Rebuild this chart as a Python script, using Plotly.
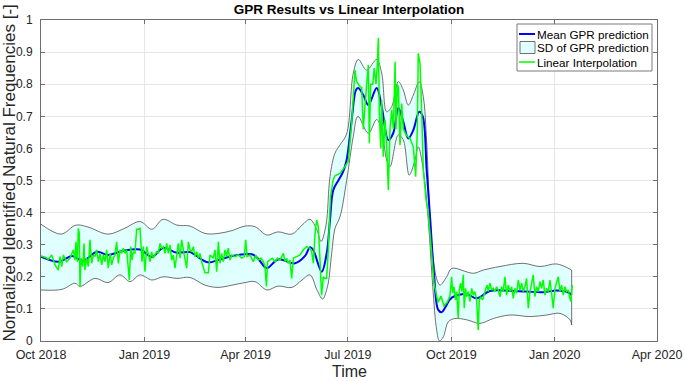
import pandas as pd
import plotly.graph_objects as go

START = "2018-10-01"

# Mean GPR prediction (days since START, value)
MEAN_DAYS = [0, 16.0, 27.6, 37.4, 49.8, 59.6, 72.1, 88.1, 98.7, 108.5, 121.0, 132.5, 137.0, 148.6,
             157.5, 169.9, 187.7, 193.0, 201.0, 210.8, 226.0, 234.9, 239.3, 242.0, 249.7, 254.2,
             257.1, 260.0, 264.5, 268.7, 271.9, 276.4, 280.2, 282.3, 286.7, 291.2, 298.6, 303.1,
             309.0, 313.4, 317.9, 322.3, 326.8, 331.2, 336.5, 339.6, 343.1, 346.1, 349.6, 353.4,
             356.5, 360.0, 365.4, 378.7, 387.6, 399.4, 414.3, 432.1, 446.8, 458.8, 469.1, 472.1]
MEAN_VALS = [0.263, 0.247, 0.265, 0.250, 0.278, 0.268, 0.280, 0.285, 0.262, 0.290, 0.275, 0.277, 0.268, 0.245,
             0.252, 0.265, 0.270, 0.257, 0.227, 0.254, 0.242, 0.265, 0.292, 0.285, 0.216, 0.274,
             0.377, 0.470, 0.500, 0.527, 0.564, 0.688, 0.782, 0.788, 0.766, 0.735, 0.788, 0.730,
             0.626, 0.648, 0.726, 0.683, 0.631, 0.657, 0.714, 0.700, 0.533, 0.387, 0.210, 0.097,
             0.090, 0.107, 0.135, 0.146, 0.133, 0.156, 0.157, 0.154, 0.152, 0.157, 0.151, 0.143]

# Upper edge of the SD band
UP_DAYS = [0, 17.8, 31.1, 41.8, 59.6, 73.8, 88.1, 98.7, 108.5, 121.0, 132.5, 145.9, 157.5, 169.9,
           181.5, 190.4, 201.0, 210.8, 223.3, 232.2, 239.3, 245.5, 249.1, 253.5, 257.1, 261.5,
           266.0, 271.9, 277.8, 282.3, 289.7, 298.6, 303.1, 307.5, 312.0, 317.9, 322.3, 326.8,
           331.2, 336.5, 340.1, 343.1, 346.1, 349.1, 352.3, 355.0, 360.9, 365.4, 384.6, 393.5,
           408.3, 429.0, 443.9, 458.8, 472.1]
UP_VALS = [0.364, 0.333, 0.361, 0.355, 0.333, 0.350, 0.372, 0.348, 0.379, 0.361, 0.358, 0.335, 0.335, 0.344,
           0.358, 0.356, 0.330, 0.340, 0.333, 0.361, 0.379, 0.346, 0.310, 0.360, 0.512, 0.585,
           0.611, 0.645, 0.834, 0.877, 0.844, 0.877, 0.834, 0.714, 0.730, 0.808, 0.782, 0.735,
           0.766, 0.808, 0.761, 0.620, 0.377, 0.252, 0.190, 0.174, 0.200, 0.226, 0.211, 0.221,
           0.232, 0.242, 0.232, 0.240, 0.221]

# Lower edge of the SD band
LO_DAYS = [0, 18.7, 30.2, 34.7, 48.0, 59.6, 70.3, 79.2, 88.1, 98.7, 108.5, 121.0, 132.5, 145.9,
           157.5, 169.9, 181.5, 190.4, 201.0, 210.8, 223.3, 232.2, 239.3, 245.5, 250.5, 254.9,
           258.6, 261.5, 266.0, 271.9, 277.8, 282.0, 291.2, 298.6, 303.1, 307.5, 310.5, 317.9,
           322.3, 327.6, 332.7, 335.6, 340.1, 344.5, 348.5, 352.0, 354.5, 357.9, 362.4, 368.3,
           378.7, 390.5, 402.4, 417.2, 435.0, 449.9, 461.7, 470.6, 472.1]
LO_VALS = [0.159, 0.161, 0.180, 0.170, 0.195, 0.182, 0.206, 0.185, 0.206, 0.190, 0.200, 0.195, 0.198, 0.174,
           0.167, 0.174, 0.182, 0.185, 0.159, 0.171, 0.167, 0.190, 0.206, 0.159, 0.131, 0.170,
           0.273, 0.350, 0.387, 0.500, 0.637, 0.700, 0.647, 0.690, 0.657, 0.564, 0.543, 0.642,
           0.626, 0.517, 0.564, 0.605, 0.533, 0.377, 0.170, 0.034, 0.000, 0.013, 0.060, 0.070,
           0.066, 0.055, 0.070, 0.081, 0.076, 0.081, 0.086, 0.066, 0.050]

# Linear interpolation of identified frequencies
LIN_DAYS = [0, 3.6, 6.5, 9.5, 12.5, 15.4, 16.9, 18.4, 19.9, 22.8, 25.8, 27.3, 28.8, 30.2, 31.1, 32.3,
            33.2, 34.1, 34.7, 35.6, 37.1, 38.3, 39.1, 40.6, 42.1, 43.6, 45.1, 46.6, 48.0, 49.5,
            51.0, 52.5, 54.0, 55.5, 56.9, 58.4, 59.9, 61.4, 62.9, 64.3, 65.8, 67.3, 68.8, 70.3,
            71.8, 73.2, 74.7, 76.2, 77.7, 78.6, 79.8, 81.0, 82.1, 83.6, 85.1, 86.6, 88.1, 89.0,
            89.8, 91.0, 92.5, 94.0, 95.5, 97.0, 98.4, 99.9, 101.4, 102.9, 104.4, 105.9, 107.3,
            108.8, 110.3, 111.8, 113.3, 114.8, 116.2, 117.7, 119.2, 120.7, 122.2, 123.7, 125.1,
            126.6, 128.1, 129.6, 131.1, 132.6,
            134.0, 135.5, 137.0, 138.5, 140.0, 141.4, 142.9, 144.4, 145.9, 148.9, 150.3, 153.3,
            154.8, 156.3, 157.8, 159.2, 160.7, 162.2, 163.7, 165.2, 166.6, 168.1, 169.6, 172.6,
            175.5, 178.5, 180.9, 182.1, 183.3, 185.9, 188.9, 191.0, 193.3, 195.7, 197.8, 199.3,
            200.5, 201.6, 203.7, 205.8, 208.2, 210.5, 212.6, 215.6, 217.1, 218.5, 220.0, 221.5,
            223.0, 224.5, 227.4, 230.4, 233.4, 236.3, 239.3, 240.8, 242.3, 243.8, 245.2, 246.7,
            248.2, 249.6, 251.2, 252.6, 254.1, 255.6, 257.5, 259.8, 261.5, 266.0, 270.4, 273.4,
            276.4, 279.3, 280.8, 283.8, 285.3, 286.2, 286.7, 289.7, 291.2, 292.1, 293.3, 295.1,
            296.5, 298.0, 299.2, 300.1, 301.0, 302.2, 303.1, 304.5, 306.0, 307.6, 309.0, 310.5,
            312.0, 313.5, 315.0, 315.8, 317.0, 317.9, 318.8, 319.4, 320.9, 322.3, 323.8, 325.3,
            328.3, 331.2, 333.3, 334.8, 335.6, 337.2, 338.7, 340.1, 342.5, 344.5, 347.6, 349.6,
            351.4, 353.2, 355.8, 358.5, 361.2, 363.8,
            365.3, 366.2, 367.4, 368.8, 369.7, 371.2, 372.1, 373.3, 374.5, 375.7, 376.5, 377.7,
            378.6, 380.1, 381.6, 383.1, 384.6, 386.0, 387.5, 389.0, 389.9, 391.1, 392.9, 394.0,
            395.8, 397.0, 397.9, 399.4, 400.9, 402.3, 403.8, 405.3, 406.8, 408.3, 409.8, 411.2,
            412.7, 414.2, 415.7, 417.2, 418.7, 420.1, 421.6, 423.1, 424.6, 426.1, 427.6, 429.0,
            430.5, 432.0, 433.5, 435.0, 436.4, 437.9, 439.4, 440.9, 442.4, 443.9, 445.3, 446.8,
            448.3, 449.8, 451.3, 452.8, 454.2, 455.7, 457.2, 458.7, 460.2, 461.7, 463.1, 464.6,
            466.1, 467.6, 469.1, 470.5, 471.4, 472.6]
LIN_VALS = [0.265, 0.261, 0.254, 0.268, 0.237, 0.221, 0.263, 0.232, 0.268, 0.247, 0.258, 0.273, 0.284, 0.252, 0.309, 0.247,
            0.351, 0.335, 0.169, 0.258, 0.232, 0.304, 0.221, 0.258, 0.232, 0.315, 0.242, 0.268, 0.263, 0.284,
            0.247, 0.273, 0.237, 0.268, 0.247, 0.284, 0.227, 0.273, 0.237, 0.258, 0.268, 0.309, 0.242, 0.284,
            0.273, 0.289, 0.273, 0.284, 0.221, 0.190, 0.294, 0.252, 0.278, 0.273, 0.348, 0.348, 0.351, 0.284,
            0.247, 0.294, 0.216, 0.294, 0.268, 0.247, 0.278, 0.258, 0.268, 0.278, 0.273, 0.304, 0.289,
            0.294, 0.273, 0.304, 0.273, 0.299, 0.252, 0.268, 0.227, 0.273, 0.304, 0.258, 0.315,
            0.284, 0.252, 0.227, 0.309, 0.284,
            0.278, 0.294, 0.263, 0.278, 0.258, 0.273, 0.247, 0.232, 0.213, 0.213, 0.268, 0.258,
            0.284, 0.216, 0.309, 0.242, 0.273, 0.247, 0.284, 0.263, 0.289, 0.252, 0.268, 0.263,
            0.268, 0.258, 0.263, 0.315, 0.263, 0.268, 0.247, 0.268, 0.252, 0.258, 0.247, 0.232,
            0.170, 0.247, 0.252, 0.258, 0.247, 0.258, 0.252, 0.273, 0.247, 0.258, 0.242, 0.252,
            0.195, 0.258, 0.263, 0.268, 0.284, 0.294, 0.289, 0.278, 0.242, 0.335, 0.377, 0.356,
            0.252, 0.143, 0.200, 0.195, 0.195, 0.284, 0.450, 0.500, 0.515, 0.522, 0.543, 0.560,
            0.680, 0.844, 0.808, 0.792, 0.790, 0.730, 0.660, 0.800, 0.860, 0.616, 0.800, 0.800,
            0.850, 0.800, 0.860, 0.945, 0.710, 0.600, 0.750, 0.574, 0.690, 0.605, 0.470, 0.660,
            0.720, 0.660, 0.870, 0.660, 0.800, 0.790, 0.710, 0.610, 0.740, 0.660, 0.650, 0.640,
            0.630, 0.605, 0.512, 0.660, 0.896, 0.865, 0.710, 0.533, 0.440, 0.400, 0.270, 0.180,
            0.150, 0.120, 0.140, 0.110, 0.120, 0.140,
            0.200, 0.149, 0.169, 0.128, 0.154, 0.071, 0.159, 0.180, 0.154, 0.206, 0.102, 0.164,
            0.138, 0.154, 0.123, 0.164, 0.143, 0.154, 0.128, 0.034, 0.128, 0.138, 0.128, 0.143,
            0.164, 0.174, 0.154, 0.180, 0.159, 0.164, 0.154, 0.169, 0.159, 0.138, 0.169, 0.154,
            0.200, 0.143, 0.174, 0.154, 0.169, 0.133, 0.164, 0.149, 0.190, 0.159, 0.180, 0.154,
            0.169, 0.195, 0.102, 0.154, 0.180, 0.206, 0.138, 0.169, 0.154, 0.185, 0.164, 0.190,
            0.143, 0.164, 0.154, 0.190, 0.149, 0.102, 0.164, 0.185, 0.200, 0.154, 0.174, 0.143,
            0.169, 0.154, 0.159, 0.133, 0.123, 0.174]

TICK_DATES = ["2018-10-01", "2019-01-01", "2019-04-01", "2019-07-01", "2019-10-01",
              "2020-01-01", "2020-04-01"]
TICK_TEXT = ["Oct 2018", "Jan 2019", "Apr 2019", "Jul 2019", "Oct 2019", "Jan 2020", "Apr 2020"]
Y_TICKS = [0, 0.1, 0.2, 0.3, 0.4, 0.5, 0.6, 0.7, 0.8, 0.9, 1]
Y_TEXT = ["0", "0.1", "0.2", "0.3", "0.4", "0.5", "0.6", "0.7", "0.8", "0.9", "1"]
LEGEND_NAMES = ["Mean GPR prediction", "SD of GPR prediction", "Linear Interpolation"]

W, H = 685, 381
ML, MR, MT, MB = 41, 28, 20, 40
PW, PH = W - ML - MR, H - MT - MB


def to_dates(days):
    return pd.Timestamp(START) + pd.to_timedelta(days, unit="D")


def px_x(px):
    return (px - ML) / PW


def px_y(py):
    return (H - MB - py) / PH


FONT = "Arial, Liberation Sans, Helvetica, sans-serif"
EDGE = "#4d4d4d"
FILL = "#e0ffff"
BLUE = "#0000ff"
GREEN = "#00ff00"

fig = go.Figure()
fig.add_trace(go.Scatter(x=to_dates(LO_DAYS), y=LO_VALS, mode="lines",
                         line=dict(color=EDGE, width=0.8, shape="spline"),
                         showlegend=False, hoverinfo="skip"))
fig.add_trace(go.Scatter(x=to_dates(UP_DAYS), y=UP_VALS, mode="lines", fill="tonexty",
                         fillcolor=FILL, line=dict(color=EDGE, width=0.8, shape="spline"),
                         name=LEGEND_NAMES[1], showlegend=False))
fig.add_trace(go.Scatter(x=to_dates([UP_DAYS[-1], LO_DAYS[-1]]), y=[UP_VALS[-1], LO_VALS[-1]],
                         mode="lines", line=dict(color=EDGE, width=0.8), showlegend=False))
fig.add_trace(go.Scatter(x=to_dates(MEAN_DAYS), y=MEAN_VALS, mode="lines",
                         line=dict(color=BLUE, width=2, shape="spline"),
                         name=LEGEND_NAMES[0], showlegend=False))
fig.add_trace(go.Scatter(x=to_dates(LIN_DAYS), y=LIN_VALS, mode="lines",
                         line=dict(color=GREEN, width=1.5),
                         name=LEGEND_NAMES[2], showlegend=False))

axis_common = dict(showline=True, linecolor="#6e6e6e", linewidth=1, mirror="ticks",
                   ticks="inside", ticklen=4, tickcolor="#6e6e6e", automargin=False,
                   showgrid=True, gridcolor="#e6e6e6", gridwidth=1, zeroline=False)

# Legend drawn MATLAB-style (box, short symbols, labels)
shapes = [
    dict(type="rect", xref="paper", yref="paper", x0=px_x(517), x1=px_x(652),
         y0=px_y(71), y1=px_y(24), line=dict(color="#7a7a7a", width=1),
         fillcolor="white", layer="above"),
    dict(type="line", xref="paper", yref="paper", x0=px_x(519), x1=px_x(535),
         y0=px_y(34), y1=px_y(34), line=dict(color=BLUE, width=2), layer="above"),
    dict(type="rect", xref="paper", yref="paper", x0=px_x(520), x1=px_x(535),
         y0=px_y(53.5), y1=px_y(41.5), line=dict(color=EDGE, width=0.8),
         fillcolor=FILL, layer="above"),
    dict(type="line", xref="paper", yref="paper", x0=px_x(519), x1=px_x(535),
         y0=px_y(62), y1=px_y(62), line=dict(color=GREEN, width=1.5), layer="above"),
]
annotations = []
for name, py in zip(LEGEND_NAMES, [34, 47.5, 62]):
    annotations.append(dict(text=name, xref="paper", yref="paper", x=px_x(534.5), y=px_y(py),
                            xanchor="left", yanchor="middle", showarrow=False,
                            font=dict(family=FONT, size=11.7, color="#000000")))
annotations.append(dict(text="Normalized Identified Natural Frequencies [-]", textangle=-90,
                        xref="paper", yref="paper", x=px_x(-3), y=px_y(173),
                        xanchor="left", yanchor="middle", showarrow=False,
                        font=dict(family=FONT, size=17, color="#262626")))
annotations.append(dict(text="Time", xref="paper", yref="paper", x=px_x(349.5), y=px_y(372),
                        xanchor="center", yanchor="middle", showarrow=False,
                        font=dict(family=FONT, size=16, color="#262626")))

fig.update_layout(
    width=W, height=H,
    margin=dict(l=ML, r=MR, t=MT, b=MB),
    paper_bgcolor="white", plot_bgcolor="white",
    title=dict(text="<b>GPR Results vs Linear Interpolation</b>", x=0.5, xref="paper",
               y=1 - 9 / H, yanchor="middle",
               font=dict(family=FONT, size=13.5, color="#000000")),
    showlegend=False,
    shapes=shapes,
    annotations=annotations,
)
fig.update_xaxes(range=[pd.Timestamp(TICK_DATES[0]), pd.Timestamp(TICK_DATES[-1])],
                 tickmode="array", tickvals=TICK_DATES, ticktext=TICK_TEXT,
                 ticklabelstandoff=2, tickfont=dict(family=FONT, size=12.5, color="#262626"),
                 **axis_common)
fig.update_yaxes(range=[0, 1], tickmode="array", tickvals=Y_TICKS, ticktext=Y_TEXT,
                 ticklabelstandoff=5, tickfont=dict(family=FONT, size=12, color="#262626"),
                 **axis_common)

fig.write_html("out.html", config={"displayModeBar": False},
               post_script="document.body.style.margin='0px';")
